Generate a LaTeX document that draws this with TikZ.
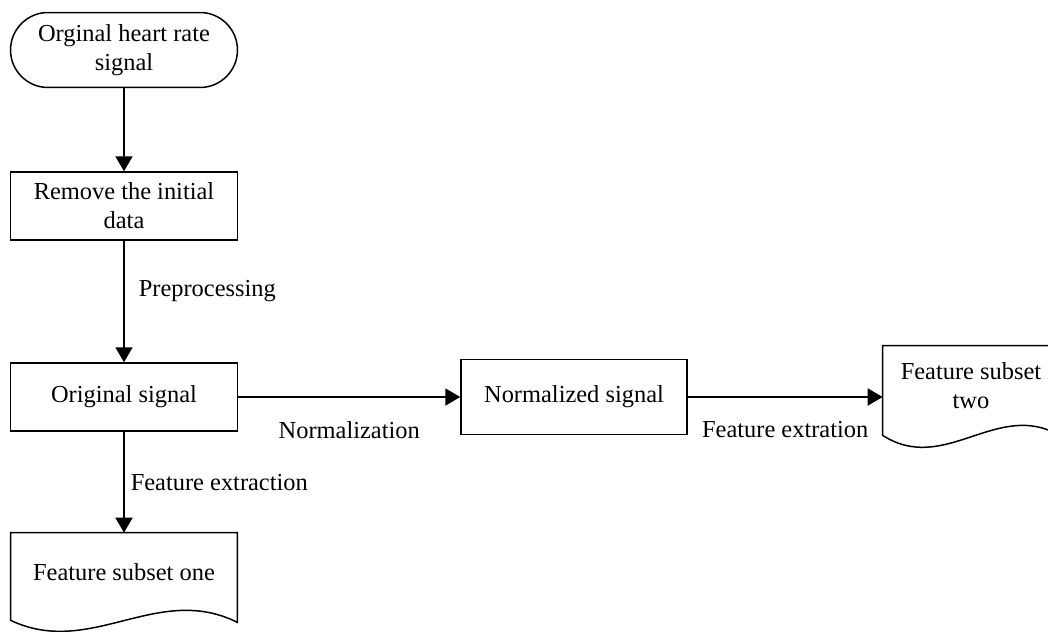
\documentclass[tikz,border=0pt]{standalone}
\usepackage{fontspec}
\setmainfont{Liberation Serif}
\usepackage{tikz}
\usetikzlibrary{arrows.meta,shapes.misc}

\tikzset{
  box/.style={draw, line width=0.85pt, minimum width=4.54cm, minimum height=1.36cm, align=center, inner sep=0pt},
  term/.style={box, rounded rectangle, minimum height=1.5cm},
  doc/.style={align=center, inner sep=0pt},
  docline/.style={line width=0.85pt, line join=miter},
  flow/.style={line width=1.1pt, -{Triangle[width=0.34cm,length=0.3cm]}}
}

\begin{document}
\begin{tikzpicture}[x=0.02cm, y=-0.02cm, font=\fontsize{13.9}{16.5}\selectfont]

\useasboundingbox (0,0) rectangle (1048,632);


\node[term] (start) at (124,50) {Orginal heart rate\\signal};
\node[box] (remove) at (124,206) {Remove the initial\\data};
\node[box] (orig) at (124,397) {Original signal};
\node[box, minimum width=4.52cm, minimum height=1.5cm] (norm) at (574,397) {Normalized signal};


\node[doc, minimum width=4.52cm, minimum height=1.56cm] (one) at (124,572) {Feature subset one};
\draw[docline] ([shift={(0,9)}]one.south west) -- (one.north west) -- (one.north east)
  -- ([shift={(0,11)}]one.south east)
  .. controls ([shift={(-80,-29)}]one.south east) and ([shift={(80,47)}]one.south west)
  .. ([shift={(0,9)}]one.south west) -- cycle;

\node[doc, minimum width=3.52cm, minimum height=1.6cm] (two) at (971,386) {Feature subset\\two};
\draw[docline] ([shift={(0,9)}]two.south west) -- (two.north west) -- (two.north east)
  -- ([shift={(0,9)}]two.south east)
  .. controls ([shift={(-62,-27)}]two.south east) and ([shift={(62,49)}]two.south west)
  .. ([shift={(0,9)}]two.south west) -- cycle;


\draw[flow] (start) -- (remove);
\draw[flow] (remove) -- node[pos=0.41, right=0.16cm] {Preprocessing} (orig);
\draw[flow] (orig) -- node[right] {Feature extraction} (one);
\draw[flow] (orig) -- node[below=0.35cm] {Normalization} (norm);
\draw[flow] (norm) -- node[below=0.35cm] {Feature extration} (norm -| two.west);

\end{tikzpicture}
\end{document}
